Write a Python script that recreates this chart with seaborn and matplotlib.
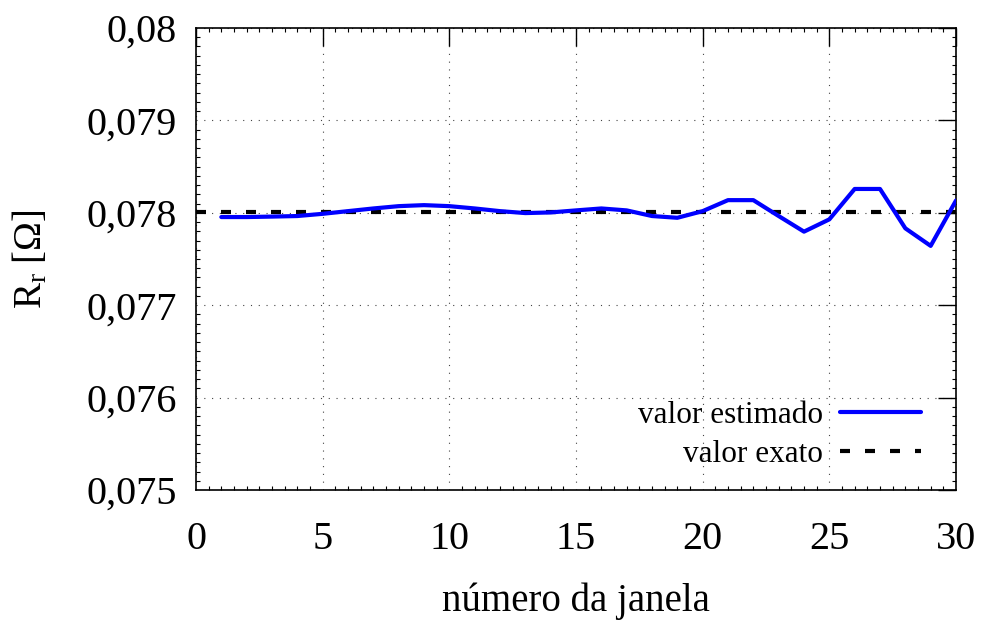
import matplotlib
matplotlib.use("Agg")
import matplotlib.pyplot as plt
import seaborn as sns
import pandas as pd
from matplotlib.ticker import MultipleLocator, FuncFormatter

# Data
janela = list(range(1, 31))
estimado = [0.077954, 0.077954, 0.077959, 0.077965, 0.077989, 0.078018, 0.078047,
            0.078072, 0.078083, 0.078072, 0.078047, 0.078018, 0.077997, 0.078004,
            0.078026, 0.078047, 0.078026, 0.077965, 0.077946, 0.078018, 0.078137,
            0.078137, 0.077965, 0.077796, 0.077929, 0.078258, 0.078258, 0.077832,
            0.077642, 0.078133]
exato_x = [0, 30]
exato_y = [0.07801, 0.07801]
x_ticks = [0, 5, 10, 15, 20, 25, 30]
y_ticks = [0.075, 0.076, 0.077, 0.078, 0.079, 0.080]

sns.set_theme(style="white")
plt.rcParams['font.family'] = ['Liberation Serif', 'DejaVu Serif']
plt.rcParams['mathtext.fontset'] = 'custom'
plt.rcParams['mathtext.rm'] = 'Liberation Serif'
plt.rcParams['mathtext.it'] = 'Liberation Serif:italic'

fig = plt.figure(figsize=(9.81, 6.28), dpi=100)
ax = fig.add_axes([196/981, 1-490/628, (956-196)/981, (490-28)/628])

df_est = pd.DataFrame({"x": janela, "y": estimado})
df_ex = pd.DataFrame({"x": exato_x, "y": exato_y})

sns.lineplot(data=df_est, x="x", y="y", ax=ax, color=(0, 0, 1), lw=3.0,
             label="valor estimado", zorder=4)
sns.lineplot(data=df_ex, x="x", y="y", ax=ax, color="black", lw=3.0,
             linestyle=(0, (2.4, 3.6)), label="valor exato", zorder=3)

ax.set_xlim(0, 30)
ax.set_ylim(0.075, 0.080)
ax.set_xticks(x_ticks)
ax.set_yticks(y_ticks)
ax.xaxis.set_minor_locator(MultipleLocator(0.5))
ax.yaxis.set_minor_locator(MultipleLocator(0.0001))
ax.yaxis.set_major_formatter(FuncFormatter(lambda v, p: ("%g" % round(v, 4)).replace(".", ",")))
ax.xaxis.set_major_formatter(FuncFormatter(lambda v, p: "%d" % v))

ax.tick_params(which="major", direction="in", length=13, width=1, color="black",
               top=True, right=True, labelsize=29, labelcolor="black")
ax.tick_params(axis="x", which="major", pad=22)
ax.tick_params(axis="y", which="major", pad=14)
ax.tick_params(which="minor", direction="in", length=3, width=0.8, color="black",
               top=True, right=True, bottom=True, left=True)

for s in ax.spines.values():
    s.set_color("black")
    s.set_linewidth(1.2)

ax.grid(True, which="major", color="#444444", linestyle=(0, (1, 6)), linewidth=0.8)

ax.set_xlabel("número da janela", fontsize=28, color="black", labelpad=18)
ax.set_ylabel(r"R$_\mathregular{r}$ [Ω]", fontsize=28, color="black", labelpad=26)

leg = ax.legend(loc="lower right", bbox_to_anchor=(0.983, -0.002), frameon=False,
                markerfirst=False, fontsize=22.5, handlelength=2.6,
                handletextpad=0.55, labelspacing=0.32, borderaxespad=0.3)
for t in leg.get_texts():
    t.set_ha("right")
    t.set_color("black")

fig.savefig("out.png", dpi=100)
